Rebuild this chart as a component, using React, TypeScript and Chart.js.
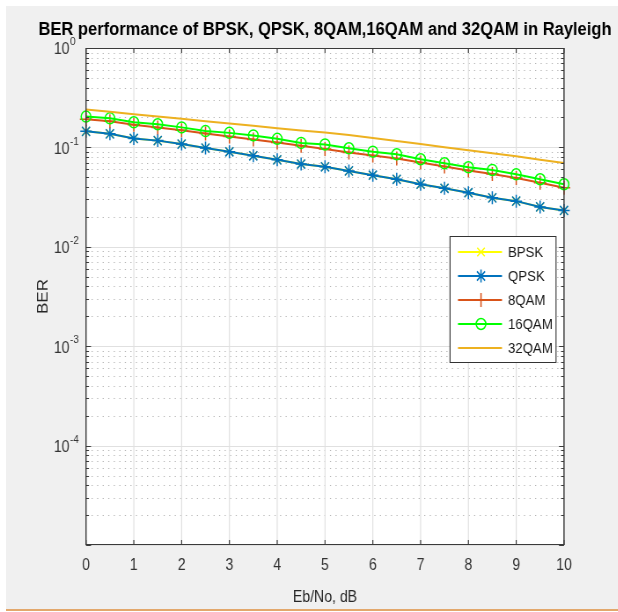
import React, { useEffect, useRef } from 'react';
import { Chart, registerables } from 'chart.js';

Chart.register(...registerables);

// ---------------- data ----------------
const ebNo = [0, 0.5, 1, 1.5, 2, 2.5, 3, 3.5, 4, 4.5, 5, 5.5, 6, 6.5, 7, 7.5, 8, 8.5, 9, 9.5, 10];
const xTickValues = [0, 1, 2, 3, 4, 5, 6, 7, 8, 9, 10];
const yTickValues = [1, 0.1, 0.01, 0.001, 0.0001, 0.00001];
const yTickBase = ['10', '10', '10', '10', '10', ''];
const yTickExponents = ['0', '-1', '-2', '-3', '-4', ''];

const bpsk = [0.145, 0.137, 0.123, 0.117, 0.108, 0.0986, 0.0904, 0.0824, 0.075, 0.068, 0.0638, 0.058, 0.0525, 0.0478, 0.0426, 0.0388, 0.035, 0.0311, 0.0288, 0.0252, 0.0232];
const qpsk = [0.145, 0.137, 0.123, 0.117, 0.108, 0.0986, 0.0904, 0.0824, 0.075, 0.068, 0.0638, 0.058, 0.0525, 0.0478, 0.0426, 0.0388, 0.035, 0.0311, 0.0288, 0.0252, 0.0232];
const qam8 = [0.192, 0.183, 0.169, 0.159, 0.149, 0.138, 0.129, 0.12, 0.112, 0.104, 0.0966, 0.089, 0.083, 0.0774, 0.0705, 0.0643, 0.0586, 0.054, 0.0492, 0.0442, 0.0392];
const qam16 = [0.204, 0.196, 0.179, 0.171, 0.159, 0.146, 0.14, 0.132, 0.122, 0.111, 0.107, 0.098, 0.0906, 0.0853, 0.076, 0.0692, 0.0631, 0.0593, 0.0536, 0.0478, 0.0426];
const qam32 = [0.241, 0.229, 0.216, 0.205, 0.194, 0.183, 0.174, 0.165, 0.156, 0.148, 0.141, 0.133, 0.124, 0.116, 0.108, 0.1005, 0.0937, 0.0874, 0.0815, 0.075, 0.0695];

const seriesNames = ['BPSK', 'QPSK', '8QAM', '16QAM', '32QAM'];
const seriesValues = [bpsk, qpsk, qam8, qam16, qam32];

const titleText = 'BER performance of BPSK, QPSK, 8QAM,16QAM and 32QAM in Rayleigh';
const xTitle = 'Eb/No, dB';
const yTitle = 'BER';

// ---------------- styles / layout ----------------
const S = 0.88; // horizontal squeeze of the reference picture
const W = Math.round(618 / S);
const H = 612;
const px = (x: number) => x / S;
const FONT = '"Liberation Sans", Arial, Helvetica, sans-serif';
const TITLE_SIZE = 18.8;

const plotL = px(86);
const plotR = px(564);
const plotT = 48;
const plotB = 545;
const padR = 2;
const padL = padR + (plotL + plotR) - W;
const yLabelJoin = px(69.5);

const seriesStyles = [
  { color: '#FFFF00', marker: 'crossRot', radius: 6 },
  { color: '#0072BD', marker: 'star', radius: 6.5 },
  { color: '#D95319', marker: 'cross', radius: 7 },
  { color: '#00FF00', marker: 'circle', radius: 5.5 },
  { color: '#EDB120', marker: 'none', radius: 0 },
];

const legendBox = { l: px(450), r: px(556), t: 236, b: 363 };
const legendRows = [252, 276, 300, 324, 348];
const legendLine = { x0: px(458), x1: px(502), xm: px(481), xt: px(508) };

function drawMarker(ctx: CanvasRenderingContext2D, style: string, x: number, y: number, r: number) {
  if (style === 'none') return;
  ctx.beginPath();
  if (style === 'circle') {
    ctx.arc(x, y, r, 0, Math.PI * 2);
  } else {
    if (style === 'cross' || style === 'star') {
      ctx.moveTo(x - r, y); ctx.lineTo(x + r, y);
      ctx.moveTo(x, y - r); ctx.lineTo(x, y + r);
    }
    if (style === 'crossRot' || style === 'star') {
      const d = r * Math.SQRT1_2;
      ctx.moveTo(x - d, y - d); ctx.lineTo(x + d, y + d);
      ctx.moveTo(x - d, y + d); ctx.lineTo(x + d, y - d);
    }
  }
  ctx.stroke();
}

const matlabPlugin = {
  id: 'matlabAxes',
  beforeDatasetsDraw(chart: any) {
    const { ctx, chartArea: a, scales } = chart;
    const xs = scales.x;
    const ys = scales.y;
    ctx.save();
    ctx.fillStyle = '#ffffff';
    ctx.fillRect(a.left, a.top, a.right - a.left, a.bottom - a.top);
    // minor dotted grid
    ctx.strokeStyle = '#b5b5b5';
    ctx.lineWidth = 1;
    ctx.setLineDash([1.3, 5]);
    for (let k = -5; k < 0; k++) {
      for (let m = 2; m <= 9; m++) {
        const y = Math.round(ys.getPixelForValue(m * Math.pow(10, k))) + 0.5;
        ctx.beginPath(); ctx.moveTo(a.left, y); ctx.lineTo(a.right, y); ctx.stroke();
      }
    }
    ctx.setLineDash([]);
    ctx.strokeStyle = '#e0e0e0';
    ctx.lineWidth = 1 / S;
    for (const v of xTickValues) {
      const x = xs.getPixelForValue(v);
      ctx.beginPath(); ctx.moveTo(x, a.top); ctx.lineTo(x, a.bottom); ctx.stroke();
    }
    ctx.lineWidth = 1;
    for (const v of yTickValues) {
      const y = Math.round(ys.getPixelForValue(v)) + 0.5;
      ctx.beginPath(); ctx.moveTo(a.left, y); ctx.lineTo(a.right, y); ctx.stroke();
    }
    ctx.restore();
  },
  afterDatasetsDraw(chart: any) {
    const { ctx, chartArea: a, scales } = chart;
    const xs = scales.x;
    const ys = scales.y;
    ctx.save();
    ctx.strokeStyle = '#3a3a3a';
    // box
    ctx.lineWidth = 1;
    ctx.beginPath();
    ctx.moveTo(a.left, Math.round(a.top) + 0.5); ctx.lineTo(a.right, Math.round(a.top) + 0.5);
    ctx.moveTo(a.left, Math.round(a.bottom) - 0.5); ctx.lineTo(a.right, Math.round(a.bottom) - 0.5);
    ctx.stroke();
    ctx.lineWidth = 1.2 / S;
    ctx.beginPath();
    ctx.moveTo(a.left, a.top); ctx.lineTo(a.left, a.bottom);
    ctx.moveTo(a.right, a.top); ctx.lineTo(a.right, a.bottom);
    ctx.stroke();
    // x ticks (inward)
    ctx.lineWidth = 1 / S;
    for (const v of xTickValues) {
      const x = xs.getPixelForValue(v);
      ctx.beginPath();
      ctx.moveTo(x, a.bottom); ctx.lineTo(x, a.bottom - 5);
      ctx.moveTo(x, a.top); ctx.lineTo(x, a.top + 5);
      ctx.stroke();
    }
    // y ticks (inward)
    ctx.lineWidth = 1;
    for (let k = -5; k <= 0; k++) {
      for (let m = 1; m <= 9; m++) {
        if (k === 0 && m > 1) continue;
        const y = Math.round(ys.getPixelForValue(m * Math.pow(10, k))) + 0.5;
        const len = (m === 1 ? 5 : 3) / S;
        ctx.beginPath();
        ctx.moveTo(a.left, y); ctx.lineTo(a.left + len, y);
        ctx.moveTo(a.right, y); ctx.lineTo(a.right - len, y);
        ctx.stroke();
      }
    }
    ctx.restore();
  },
  afterDraw(chart: any) {
    const { ctx, scales } = chart;
    const ys = scales.y;
    ctx.save();
    // y tick labels as base + superscript exponent
    ctx.fillStyle = '#333333';
    yTickValues.forEach((v, i) => {
      if (!yTickBase[i]) return;
      const y = ys.getPixelForValue(v);
      ctx.textBaseline = 'middle';
      ctx.textAlign = 'right';
      ctx.font = `16px ${FONT}`;
      ctx.fillText(yTickBase[i], yLabelJoin, y + 2);
      ctx.textAlign = 'left';
      ctx.font = `11.5px ${FONT}`;
      ctx.fillText(yTickExponents[i], yLabelJoin + 0.5, y - 6);
    });

    // legend
    ctx.fillStyle = '#ffffff';
    ctx.fillRect(legendBox.l, legendBox.t, legendBox.r - legendBox.l, legendBox.b - legendBox.t);
    ctx.strokeStyle = '#333333';
    ctx.lineWidth = 1;
    ctx.beginPath();
    ctx.moveTo(legendBox.l, legendBox.t + 0.5); ctx.lineTo(legendBox.r, legendBox.t + 0.5);
    ctx.moveTo(legendBox.l, legendBox.b - 0.5); ctx.lineTo(legendBox.r, legendBox.b - 0.5);
    ctx.stroke();
    ctx.lineWidth = 1 / S;
    ctx.beginPath();
    ctx.moveTo(legendBox.l, legendBox.t); ctx.lineTo(legendBox.l, legendBox.b);
    ctx.moveTo(legendBox.r, legendBox.t); ctx.lineTo(legendBox.r, legendBox.b);
    ctx.stroke();
    seriesNames.forEach((name, i) => {
      const st = seriesStyles[i];
      const y = legendRows[i];
      ctx.strokeStyle = st.color;
      ctx.lineWidth = 2;
      ctx.beginPath(); ctx.moveTo(legendLine.x0, y); ctx.lineTo(legendLine.x1, y); ctx.stroke();
      ctx.lineWidth = 1.5;
      drawMarker(ctx, st.marker, legendLine.xm, y, st.radius);
      ctx.fillStyle = '#1a1a1a';
      ctx.font = `15px ${FONT}`;
      ctx.textBaseline = 'middle';
      ctx.textAlign = 'left';
      ctx.fillText(name, legendLine.xt, y + 1);
    });
    ctx.restore();
  },
};

export default function App() {
  const canvasRef = useRef<HTMLCanvasElement | null>(null);

  useEffect(() => {
    const canvas = canvasRef.current;
    if (!canvas) return;
    const datasets = seriesNames.map((name, i) => {
      const st = seriesStyles[i];
      return {
        label: name,
        data: ebNo.map((x, j) => ({ x, y: seriesValues[i][j] })),
        borderColor: st.color,
        backgroundColor: st.color,
        borderWidth: 2,
        pointStyle: st.marker === 'none' ? 'circle' : st.marker,
        pointRadius: st.radius,
        pointHoverRadius: st.radius,
        pointBorderColor: st.color,
        pointBackgroundColor: 'rgba(0,0,0,0)',
        pointBorderWidth: 1.5,
        tension: 0,
        fill: false,
        clip: false as any,
        order: seriesNames.length - i,
      };
    });

    const chart = new Chart(canvas, {
      type: 'line',
      data: { datasets },
      plugins: [matlabPlugin],
      options: {
        animation: false,
        responsive: false,
        maintainAspectRatio: false,
        events: [],
        layout: { padding: { left: padL, right: padR, top: 0, bottom: 0 } },
        plugins: {
          legend: { display: false },
          tooltip: { enabled: false },
          title: {
            display: true,
            text: titleText,
            color: '#000000',
            font: { family: FONT, size: TITLE_SIZE, weight: 'bold' },
            padding: { top: 19, bottom: plotT - 19 - TITLE_SIZE * 1.2 },
          },
        },
        scales: {
          x: {
            type: 'linear',
            position: 'bottom',
            min: 0,
            max: 10,
            grid: { display: false, drawTicks: false },
            border: { display: false },
            ticks: {
              autoSkip: false,
              maxRotation: 0,
              color: '#333333',
              font: { family: FONT, size: 16 },
              padding: 11,
            },
            title: {
              display: true,
              text: xTitle,
              color: '#262626',
              font: { family: FONT, size: 16 },
              padding: { top: 0, bottom: 5 },
            },
            afterBuildTicks: (s: any) => { s.ticks = xTickValues.map((v) => ({ value: v })); },
            afterFit: (s: any) => { s.height = H - plotB; },
          },
          y: {
            type: 'logarithmic',
            position: 'left',
            min: 0.00001,
            max: 1,
            grid: { display: false, drawTicks: false },
            border: { display: false },
            ticks: { display: false },
            title: {
              display: true,
              text: yTitle,
              color: '#262626',
              font: { family: FONT, size: 17 },
              padding: { top: 0, bottom: 0 },
            },
            afterBuildTicks: (s: any) => { s.ticks = yTickValues.slice().reverse().map((v) => ({ value: v })); },
            afterFit: (s: any) => { s.width = plotL - padL; },
          },
          yRight: {
            type: 'logarithmic',
            position: 'right',
            min: 0.00001,
            max: 1,
            display: true,
            grid: { display: false, drawTicks: false },
            border: { display: false },
            ticks: { display: false },
            afterFit: (s: any) => { s.width = W - padR - plotR; },
          },
        },
      } as any,
    });
    return () => chart.destroy();
  }, []);

  return (
    <div style={{ position: 'fixed', left: 0, top: 0, width: 618, height: 612, overflow: 'hidden', background: '#ffffff' }}>
      <div style={{ position: 'absolute', left: 6, top: 6, right: 0, height: 603, background: '#f0f0f0' }} />
      <div style={{ position: 'absolute', left: 6, top: 609, right: 0, height: 2, background: '#e3a86c' }} />
      <div style={{ position: 'absolute', left: 0, top: 0, width: W, height: H, transform: `scaleX(${S})`, transformOrigin: '0 0' }}>
        <canvas ref={canvasRef} width={W} height={H} style={{ display: 'block' }} />
      </div>
    </div>
  );
}
